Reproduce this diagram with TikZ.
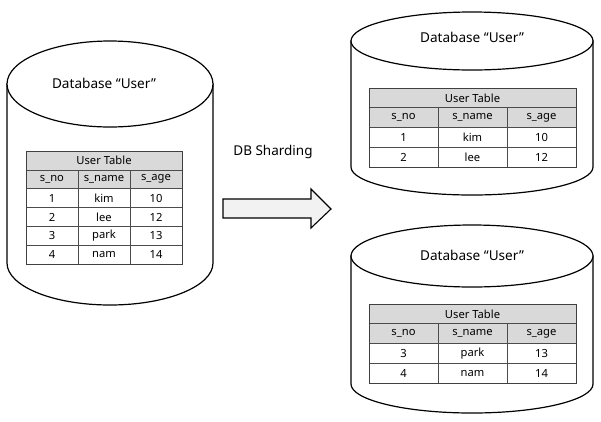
\documentclass[tikz,border=0pt]{standalone}
\usepackage{fontspec}
\setmainfont{Noto Sans}
\begin{document}
\begin{tikzpicture}[x=1pt,y=-1pt,
  cyl/.style={draw=black,line width=1.2pt,fill=white},
  cell/.style={draw=black!70,line width=0.6pt,inner sep=0pt,font=\fontsize{11.2}{12}\selectfont},
  headcell/.style={cell,fill=black!15},
  dbtitle/.style={font=\fontsize{13.6}{15}\selectfont},
  blockarrow/.style={draw=black,line width=1.1pt,fill=black!5,line join=miter}]
\useasboundingbox (0,0) rectangle (601,421);
% cylinder macro: cx, top center y, bottom center y, rx, top ry, bottom ry
\newcommand\dbcyl[6]{%
  \path[cyl] ({#1-#4},#2) -- ({#1-#4},#3) arc[start angle=180,end angle=0,x radius=#4,y radius=#6] -- ({#1+#4},#2) -- cycle;
  \path[cyl] (#1,#2) ellipse[x radius=#4,y radius=#5];
}
% table macro: name, x0, y0, col width, row height, rows
\newcommand\dbtable[6]{%
  \node[headcell,minimum width={3*#4},minimum height=#5] (#1-title) at ({#2+1.5*#4},{#3+0.5*#5}) {User Table};
  \foreach \t [count=\j] in {s\_no,s\_name,s\_age}
    \node[headcell,minimum width=#4,minimum height=#5] (#1-h\j) at ({#2+(\j-0.5)*#4},{#3+1.5*#5}) {\t};
  \foreach \a/\b/\c [count=\r] in {#6} {
    \node[cell,minimum width=#4,minimum height=#5] (#1-r\r-1) at ({#2+0.5*#4},{#3+(\r+1.5)*#5}) {\a};
    \node[cell,minimum width=#4,minimum height=#5] (#1-r\r-2) at ({#2+1.5*#4},{#3+(\r+1.5)*#5}) {\b};
    \node[cell,minimum width=#4,minimum height=#5] (#1-r\r-3) at ({#2+2.5*#4},{#3+(\r+1.5)*#5}) {\c};
  }
  \draw[draw=black!75,line width=0.8pt] (#2,#3) rectangle ({#2+3*#4},{#3+(2+\value{dbrows})*#5});
}
\newcounter{dbrows}
% left database
\dbcyl{110}{84}{263}{103}{43}{42}
\node[dbtitle] (db0) at (104,83) {Database “User”};
\setcounter{dbrows}{4}
\dbtable{ta}{26}{151}{52}{18.85}{1/kim/10,2/lee/12,3/park/13,4/nam/14}
% top right database
\dbcyl{472}{41}{167}{121}{29}{28}
\node[dbtitle] (db1) at (472,37) {Database “User”};
\setcounter{dbrows}{2}
\dbtable{tb}{369}{88}{69}{19.75}{1/kim/10,2/lee/12}
% bottom right database
\dbcyl{472}{256}{384}{121}{31}{29}
\node[dbtitle] (db2) at (472,255) {Database “User”};
\dbtable{tc}{369}{304}{69}{19.75}{3/park/13,4/nam/14}
% arrow
\node[font=\fontsize{13.5}{15}\selectfont] (lbl) at (273,152) {DB Sharding};
\coordinate (atip) at (331,209);
\draw[blockarrow] (223,199) -- (311,199) -- (311,189) -- (atip) -- (311,228) -- (311,218) -- (223,218) -- cycle;
\end{tikzpicture}
\end{document}
